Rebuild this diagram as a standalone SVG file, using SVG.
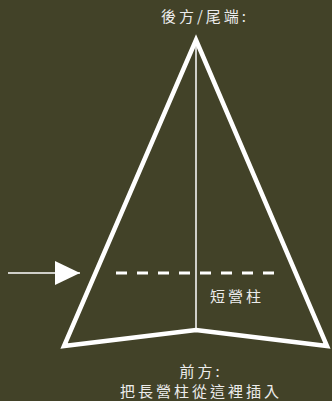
<svg xmlns="http://www.w3.org/2000/svg" width="332" height="401" viewBox="0 0 332 401">
<style>
.t{font-family:"Noto Sans CJK TC","Noto Sans CJK SC",sans-serif;fill:#ececec;font-size:15px;letter-spacing:3px;text-anchor:middle}
.w{fill:none;stroke:#fff}
</style>
<defs>
<marker id="ah" markerWidth="26" markerHeight="24" refX="25" refY="12" orient="auto" markerUnits="userSpaceOnUse">
<path d="M0,0 L25,12 L0,24 Z" fill="#fff"/>
</marker>
</defs>
<rect width="332" height="401" fill="#424228"/>
<g id="tent">
<path class="w" d="M196,40 L327,346 L196,330 L64,346 Z" stroke-width="4.5" stroke-miterlimit="20"/>
<line class="w" x1="196" y1="42" x2="196" y2="330" stroke-width="1.5"/>
</g>
<g id="connectors">
<line class="w" x1="116" y1="273" x2="276" y2="273" stroke-width="3" stroke-dasharray="11,10"/>
<line class="w" x1="8" y1="273" x2="80" y2="273" stroke-width="1.5" marker-end="url(#ah)"/>
</g>
<g id="labels">
<text class="t" x="205" y="22">後方/尾端:</text>
<text class="t" x="237" y="302">短營柱</text>
<text class="t" x="201" y="377">前方:</text>
<text class="t" x="201" y="397">把長營柱從這裡插入</text>
</g>
</svg>
